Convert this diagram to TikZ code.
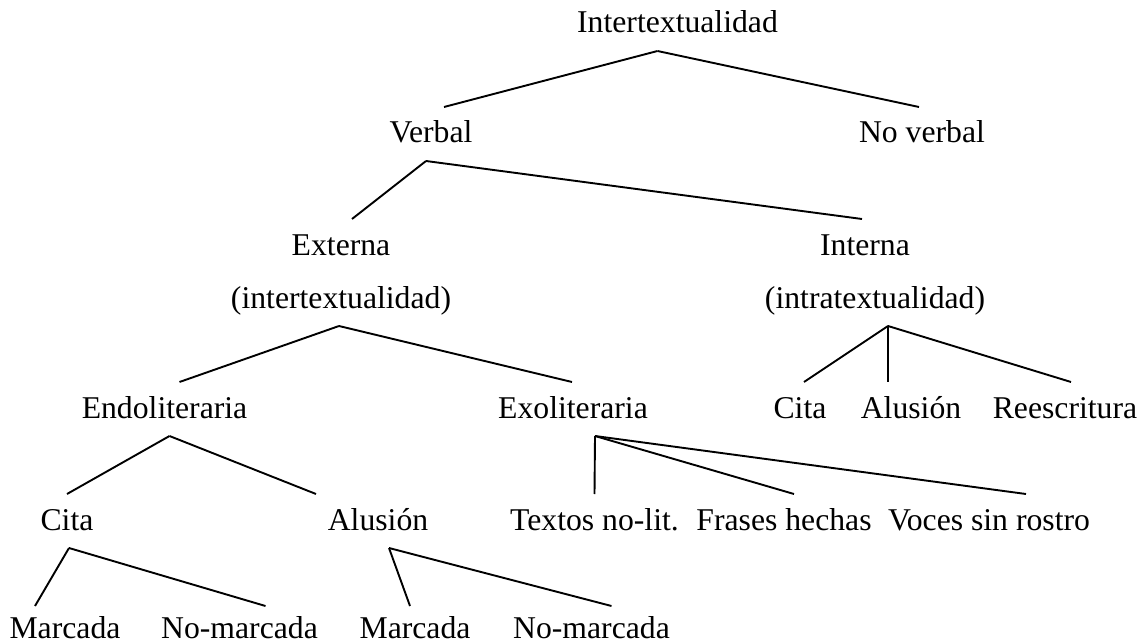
\documentclass[tikz,border=0pt]{standalone}
\usepackage{fontspec}
\setmainfont{Liberation Serif}
\usetikzlibrary{positioning}

\begin{document}
\begin{tikzpicture}[x=1pt, y=-1pt,
  lbl/.style={anchor=base, inner sep=0pt, text height=25pt, text depth=7pt,
    outer xsep=0pt, outer ysep=11pt, font=\fontsize{31.7}{38}\selectfont},
  leaf/.style={lbl, text height=21pt, text depth=4pt},
  branch/.style={black, line width=1.9pt}]
% Page frame
\useasboundingbox (0,0) rectangle (1145,644);
% Tree labels: name / x centre / baseline / text
\foreach \nm/\px/\py/\txt in {
  root/677.5/33/Intertextualidad,
  verbal/431/143/Verbal, noverbal/922/143/No verbal,
  externa/341/255/Externa, interna/865/255/Interna,
  exparen/341/308/(intertextualidad), inparen/875/308/(intratextualidad),
  endo/164.5/418/Endoliteraria, exo/573/418/Exoliteraria,
  icita/800/418/Cita, ialus/911/418/Alusión, ireesc/1065/418/Reescritura,
  ecita/67/530/Cita, ealus/378/530/Alusión,
  textos/594.5/530/Textos no-lit., frases/784/530/Frases hechas,
  voces/989/530/Voces sin rostro} {
  \node[lbl] (\nm) at (\px,\py) {\txt};
}
% bottom row
\foreach \nm/\px/\txt in {cmarc/65/Marcada, cnomarc/239.5/No-marcada,
  amarc/415/Marcada, anomarc/591.5/No-marcada} {
  \node[leaf] (\nm) at (\px,638) {\txt};
}
% Branches: parent / shift / child / shift
\foreach \pa/\dpa/\ch/\dch in {
  root/-20/verbal/13, root/-20/noverbal/-3,
  verbal/-5/externa/11, verbal/-5/interna/-3,
  exparen/-2/endo/15, exparen/-2/exo/-1,
  inparen/13/icita/4, inparen/13/ialus/-23, inparen/13/ireesc/6,
  endo/5/ecita/0, endo/5/ealus/-62,
  exo/22/textos/0, exo/22/frases/10, exo/22/voces/37,
  ecita/2/cmarc/-30, ecita/2/cnomarc/26,
  ealus/11/amarc/-5, ealus/11/anomarc/20} {
  \draw[branch] ([xshift=\dpa]\pa.south) -- ([xshift=\dch]\ch.north);
}
\end{tikzpicture}
\end{document}
